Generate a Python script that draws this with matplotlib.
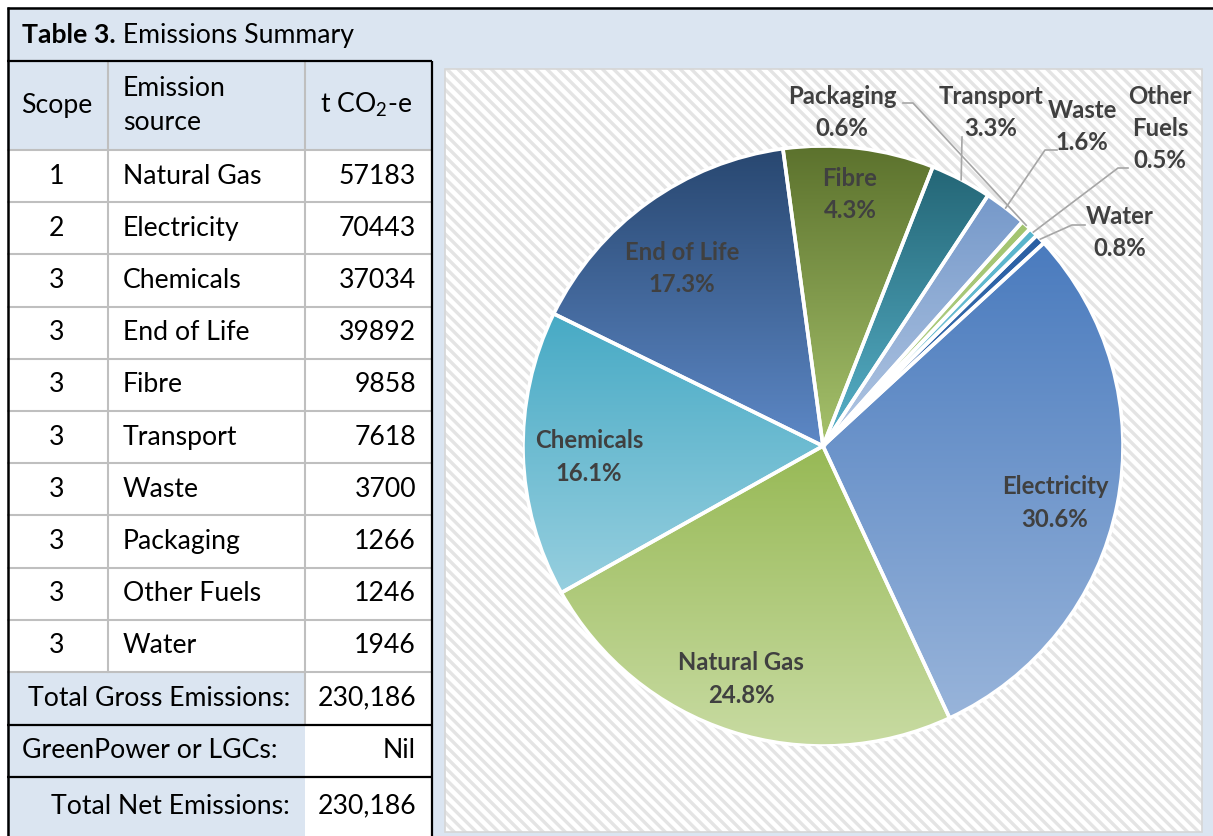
import numpy as np
import matplotlib
matplotlib.use("Agg")
import matplotlib.pyplot as plt
from matplotlib.patches import Rectangle, Wedge
from matplotlib.lines import Line2D
from matplotlib.colors import to_rgb

# ---------------- data ----------------
scopes = [1, 2, 3, 3, 3, 3, 3, 3, 3, 3]
sources = ['Natural Gas', 'Electricity', 'Chemicals', 'End of Life', 'Fibre',
           'Transport', 'Waste', 'Packaging', 'Other Fuels', 'Water']
emissions = [57183, 70443, 37034, 39892, 9858, 7618, 3700, 1266, 1246, 1946]
greenpower = 'Nil'

# pie (clockwise from the Water/Electricity boundary)
pie_names = ['Electricity', 'Natural Gas', 'Chemicals', 'End of Life', 'Fibre',
             'Transport', 'Waste', 'Packaging', 'Other Fuels', 'Water']
pie_pct_labels = [30.6, 24.8, 16.1, 17.3, 4.3, 3.3, 1.6, 0.6, 0.5, 0.8]
# slice sizes as drawn in the picture (%)
pie_drawn_share = [29.9, 23.8, 15.4, 15.6, 8.1, 3.3, 2.3, 0.55, 0.5, 0.55]

# ---------------- style ----------------
FONT = 'Lato'
plt.rcParams['font.family'] = [FONT, 'DejaVu Sans']
plt.rcParams['mathtext.fontset'] = 'custom'
plt.rcParams['mathtext.rm'] = FONT
plt.rcParams['mathtext.it'] = FONT + ':italic'
plt.rcParams['mathtext.bf'] = FONT + ':bold'
plt.rcParams['hatch.linewidth'] = 2.4
plt.rcParams['hatch.color'] = '#E4E4E4'

W, H = 1213, 836
LIGHT = '#DBE5F1'
GRID = '#BFBFBF'
TXT = '#000000'
LBL = '#404040'
TS = 19.2  # table font size

grad_colors = {
    'Electricity': ('#4A7BBE', '#98B4DA'),
    'Natural Gas': ('#97B955', '#C8DBA2'),
    'Chemicals':   ('#47AAC5', '#97CFDF'),
    'End of Life': ('#284770', '#5D88C6'),
    'Fibre':       ('#5C722D', '#A6C26C'),
    'Transport':   ('#246676', '#58B2CA'),
    'Waste':       ('#7699CA', '#B2C7E3'),
    'Packaging':   ('#A2C470', '#B7D28B'),
    'Other Fuels': ('#57B4CC', '#7CC5D8'),
    'Water':       ('#2A5FA3', '#3F73B5'),
}

fig = plt.figure(figsize=(W / 100, H / 100), dpi=100)
ax = fig.add_axes([0, 0, 1, 1])
ax.set_xlim(0, W)
ax.set_ylim(H, 0)
ax.axis('off')

# ---------------- backgrounds ----------------
ax.add_patch(Rectangle((7, 7), W - 7, 54, facecolor=LIGHT, edgecolor='none'))
ax.add_patch(Rectangle((432, 61), W - 432, H - 61, facecolor=LIGHT, edgecolor='none'))
ax.add_patch(Rectangle((445, 69), 757, 763, facecolor='white', edgecolor='#E4E4E4',
                       hatch='\\\\\\', linewidth=0))
ax.add_patch(Rectangle((445, 69), 757, 763, facecolor='none', edgecolor='#D6D6D6',
                       linewidth=1.2))
ax.add_patch(Rectangle((7, 61), 425, 89, facecolor=LIGHT, edgecolor='none'))
ax.add_patch(Rectangle((7, 672), 298, H - 672, facecolor=LIGHT, edgecolor='none'))

# ---------------- table lines ----------------
row_top = 150
row_h = (672 - 150) / len(sources)
for k in range(len(sources) + 1):
    y = row_top + k * row_h
    ax.plot([7, 432], [y, y], color=GRID, lw=1.5, solid_capstyle='butt')
ax.plot([108, 108], [61, 672], color=GRID, lw=1.5)
ax.plot([305, 305], [61, 725], color=GRID, lw=1.5)
for y in (61, 725, 777):
    ax.plot([7, 432], [y, y], color='black', lw=1.6, solid_capstyle='butt')
ax.plot([7, W], [7.5, 7.5], color='black', lw=1.8, solid_capstyle='butt')
ax.plot([7.5, 7.5], [7, H], color='black', lw=1.8, solid_capstyle='butt')
ax.plot([431.5, 431.5], [61, H], color='black', lw=1.6, solid_capstyle='butt')

# ---------------- title ----------------
t1 = ax.text(22, 35, 'Table 3.', fontsize=TS, fontweight='bold', color=TXT,
             va='center', ha='left')
ax.annotate(' Emissions Summary', xy=(1, 0.5), xycoords=t1, fontsize=TS,
            color=TXT, va='center', ha='left')

# ---------------- header ----------------
ax.text(57, 105, 'Scope', fontsize=TS, ha='center', va='center', color=TXT)
ax.text(123, 88, 'Emission', fontsize=TS, ha='left', va='center', color=TXT)
ax.text(123, 123, 'source', fontsize=TS, ha='left', va='center', color=TXT)
ax.text(320, 105, 't CO$_2$-e', fontsize=TS, ha='left', va='center', color=TXT)

# ---------------- rows ----------------
for i, (sc, src, val) in enumerate(zip(scopes, sources, emissions)):
    yc = row_top + (i + 0.5) * row_h
    ax.text(57, yc, str(sc), fontsize=TS, ha='center', va='center', color=TXT)
    ax.text(123, yc, src, fontsize=TS, ha='left', va='center', color=TXT)
    ax.text(416, yc, str(val), fontsize=TS, ha='right', va='center', color=TXT)

total_gross = sum(emissions)
total_net = total_gross
ax.text(290, 698, 'Total Gross Emissions:', fontsize=TS, ha='right', va='center', color=TXT)
ax.text(416, 698, f'{total_gross:,}', fontsize=TS, ha='right', va='center', color=TXT)
ax.text(22, 751, 'GreenPower or LGCs:', fontsize=TS, ha='left', va='center', color=TXT)
ax.text(416, 751, greenpower, fontsize=TS, ha='right', va='center', color=TXT)
ax.text(290, 806, 'Total Net Emissions:', fontsize=TS, ha='right', va='center', color=TXT)
ax.text(416, 806, f'{total_net:,}', fontsize=TS, ha='right', va='center', color=TXT)

# ---------------- pie ----------------
cx, cy, R = 823, 446, 300
axp = fig.add_axes([(cx - R) / W, (H - cy - R) / H, 2 * R / W, 2 * R / H])
axp.axis('off')
wedges, _ = axp.pie(pie_drawn_share, startangle=42.6, counterclock=False,
                    radius=1.0, colors=[grad_colors[n][0] for n in pie_names],
                    wedgeprops=dict(linewidth=0))
for w, n in zip(wedges, pie_names):
    th = np.radians(np.linspace(w.theta1, w.theta2, 200))
    ys = np.concatenate([np.sin(th), [0.0]])
    ymin, ymax = ys.min(), ys.max()
    top, bot = np.array(to_rgb(grad_colors[n][0])), np.array(to_rgb(grad_colors[n][1]))
    t = np.linspace(0, 1, 256)[:, None]
    img = (top[None, :] * (1 - t) + bot[None, :] * t)[:, None, :]
    im = axp.imshow(img, extent=(-1, 1, ymin, ymax), origin='upper',
                    aspect='auto', zorder=2, interpolation='bilinear')
    im.set_clip_path(w)
    axp.add_patch(Wedge((0, 0), 1.0, w.theta1, w.theta2, facecolor='none',
                        edgecolor='white', linewidth=2.6, zorder=3))
axp.set_xlim(-1, 1)
axp.set_ylim(-1, 1)
axp.set_aspect('auto')

PS = 17.2
label_layout = {
    'Electricity': (1055, 487, ['Electricity']),
    'Natural Gas': (741, 663, ['Natural Gas']),
    'Chemicals':   (589, 441, ['Chemicals']),
    'End of Life': (682, 252, ['End of Life']),
    'Fibre':       (850, 178, ['Fibre']),
    'Packaging':   (842, 96, ['Packaging']),
    'Transport':   (991, 96, ['Transport']),
    'Waste':       (1082, 110, ['Waste']),
    'Other Fuels': (1160, 96, ['Other', 'Fuels']),
    'Water':       (1120, 216, ['Water']),
}
leader_start = {
    'Packaging':   [(903, 103), (913, 103)],
    'Transport':   [(962, 137)],
    'Waste':       [(1057, 150), (1045, 150)],
    'Other Fuels': [(1128, 168), (1118, 168)],
    'Water':       [(1085, 225), (1072, 225)],
}
LSP = 32.5
for n, pct, w in zip(pie_names, pie_pct_labels, wedges):
    x, y, lines = label_layout[n]
    for j, s in enumerate(lines + [f'{pct:.1f}%']):
        axp.text(x, y + j * LSP, s, transform=ax.transData, fontsize=PS,
                 fontweight='bold', color=LBL, ha='center', va='center',
                 zorder=5, clip_on=False)
    if n in leader_start:
        mid = np.radians((w.theta1 + w.theta2) / 2)
        ex, ey = cx + R * 1.0 * np.cos(mid), cy - R * 1.0 * np.sin(mid)
        pts = leader_start[n] + [(ex, ey)]
        axp.add_line(Line2D([p[0] for p in pts], [p[1] for p in pts],
                            transform=ax.transData, color='#A6A6A6', lw=1.2,
                            zorder=4, clip_on=False))

fig.savefig('out.png', dpi=100)
